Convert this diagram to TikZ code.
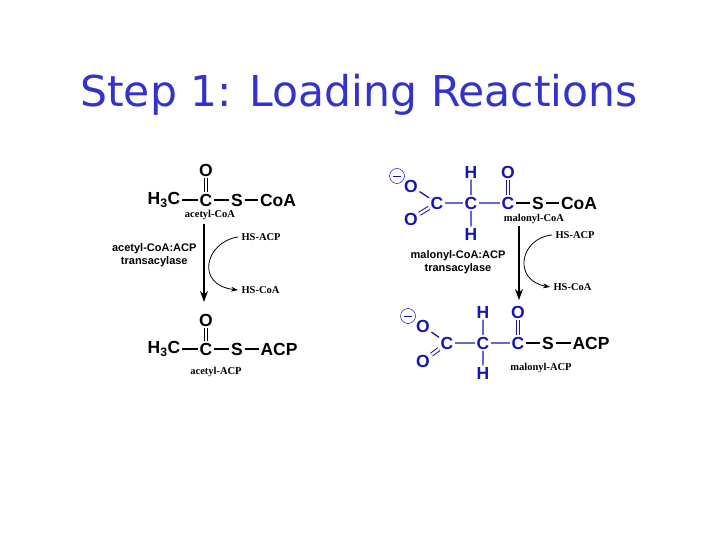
\documentclass[tikz,border=0pt]{standalone}
\usepackage{fontspec}
\usetikzlibrary{arrows.meta}
\setmainfont{Liberation Sans}
\newfontfamily\serifb{Liberation Serif}
\newfontfamily\titlefont{DejaVu Sans}
\begin{document}
\begin{tikzpicture}[x=1pt,y=-1pt,
  atom/.style={font=\fontsize{17.5}{17.5}\selectfont\bfseries,inner sep=1.5pt},
  batom/.style={atom,text=mblue},
  lab/.style={font=\serifb\fontsize{10.5}{10.5}\selectfont\bfseries},
  enz/.style={font=\fontsize{11}{13}\selectfont\bfseries,align=center},
  bond/.style={line width=1.2pt},
  bbond/.style={line width=1.3pt,draw=mblue},
  dbl/.style={double distance=2.4pt,line width=1pt},
  arr/.style={line width=1.1pt,-{Stealth[length=11pt,width=8pt]}},
  carr/.style={line width=0.8pt,-{Stealth[length=7pt,width=5pt]}}]
\definecolor{mblue}{HTML}{1515B0}
\definecolor{tblue}{HTML}{3333CC}
\useasboundingbox (0,0) rectangle (720,540);
\node[font=\titlefont\fontsize{42.5}{42.5}\selectfont,text=tblue] (title) at (359,95) {Step 1: Loading Reactions};
% acetyl-CoA
\node[atom] (a1) at (164,200) {H\textsubscript{3}C};
\node[atom] (a2) at (206,200) {C};
\node[atom] (a3) at (237,200) {S};
\node[atom] (a4) at (278,200) {CoA};
\node[atom] (a5) at (206,170) {O};
\draw[bond] (a1)--(a2) (a2)--(a3) (a3)--(a4);
\draw[dbl] (a5)--(a2);
\node[lab] (l1) at (210,215) {acetyl-CoA};
\coordinate (ar1s) at (204,224);
\coordinate (ar1e) at (204,302);
\draw[arr] (ar1s)--(ar1e);
\node[enz,anchor=east] (e1) at (200,255) {acetyl-CoA:ACP\\transacylase};
\node[lab,anchor=west] (h1) at (238,237) {HS-ACP};
\node[lab,anchor=west] (h2) at (238,290) {HS-CoA};
\draw[carr] (h1.west) .. controls (205,242) and (195,285) .. (h2.west);
\node[atom] (b1) at (164,349) {H\textsubscript{3}C};
\node[atom] (b2) at (206,349) {C};
\node[atom] (b3) at (237,349) {S};
\node[atom] (b4) at (279,349) {ACP};
\node[atom] (b5) at (206,320) {O};
\draw[bond] (b1)--(b2) (b2)--(b3) (b3)--(b4);
\draw[dbl] (b5)--(b2);
\node[lab] (l2) at (216,372) {acetyl-ACP};
% malonyl-CoA
\node[draw=mblue,circle,minimum size=15pt,inner sep=0pt,line width=0.5pt] (m0) at (397,176) {};
\draw[mblue,line width=0.6pt] ([xshift=-4pt]m0.center)--([xshift=4pt]m0.center);
\node[batom] (m1) at (411,186) {O};
\node[batom] (m2) at (437,203) {C};
\node[batom] (m3) at (411,219) {O};
\node[batom] (m4) at (471,203) {C};
\node[batom] (m5) at (471,172) {H};
\node[batom] (m6) at (471,234) {H};
\node[batom] (m7) at (508,203) {C};
\node[batom] (m8) at (508,172) {O};
\node[atom] (m9) at (538,203) {S};
\node[atom] (m10) at (579,203) {CoA};
\draw[bbond] (m1)--(m2) (m2)--(m4) (m4)--(m7) (m5)--(m4) (m4)--(m6);
\draw[dbl,draw=mblue] (m3)--(m2);
\draw[dbl,draw=mblue] (m8)--(m7);
\draw[bond] (m7)--(m9) (m9)--(m10);
\node[lab] (l3) at (534,219) {malonyl-CoA};
\coordinate (ar2s) at (519,226);
\coordinate (ar2e) at (519,300);
\draw[arr] (ar2s)--(ar2e);
\node[enz] (e2) at (458,262) {malonyl-CoA:ACP\\transacylase};
\node[lab,anchor=west] (h3) at (552,235) {HS-ACP};
\node[lab,anchor=west] (h4) at (550,287) {HS-CoA};
\draw[carr] (h3.west) .. controls (520,238) and (512,280) .. (h4.west);
\node[draw=mblue,circle,minimum size=15pt,inner sep=0pt,line width=0.5pt] (n0) at (408,316) {};
\draw[mblue,line width=0.6pt] ([xshift=-4pt]n0.center)--([xshift=4pt]n0.center);
\node[batom] (n1) at (423,326) {O};
\node[batom] (n2) at (447,343) {C};
\node[batom] (n3) at (423,361) {O};
\node[batom] (n4) at (483,343) {C};
\node[batom] (n5) at (483,312) {H};
\node[batom] (n6) at (483,373) {H};
\node[batom] (n7) at (518,343) {C};
\node[batom] (n8) at (518,312) {O};
\node[atom] (n9) at (548,343) {S};
\node[atom] (n10) at (591,343) {ACP};
\draw[bbond] (n1)--(n2) (n2)--(n4) (n4)--(n7) (n5)--(n4) (n4)--(n6);
\draw[dbl,draw=mblue] (n3)--(n2);
\draw[dbl,draw=mblue] (n8)--(n7);
\draw[bond] (n7)--(n9) (n9)--(n10);
\node[lab] (l4) at (541,368) {malonyl-ACP};
\end{tikzpicture}
\end{document}
